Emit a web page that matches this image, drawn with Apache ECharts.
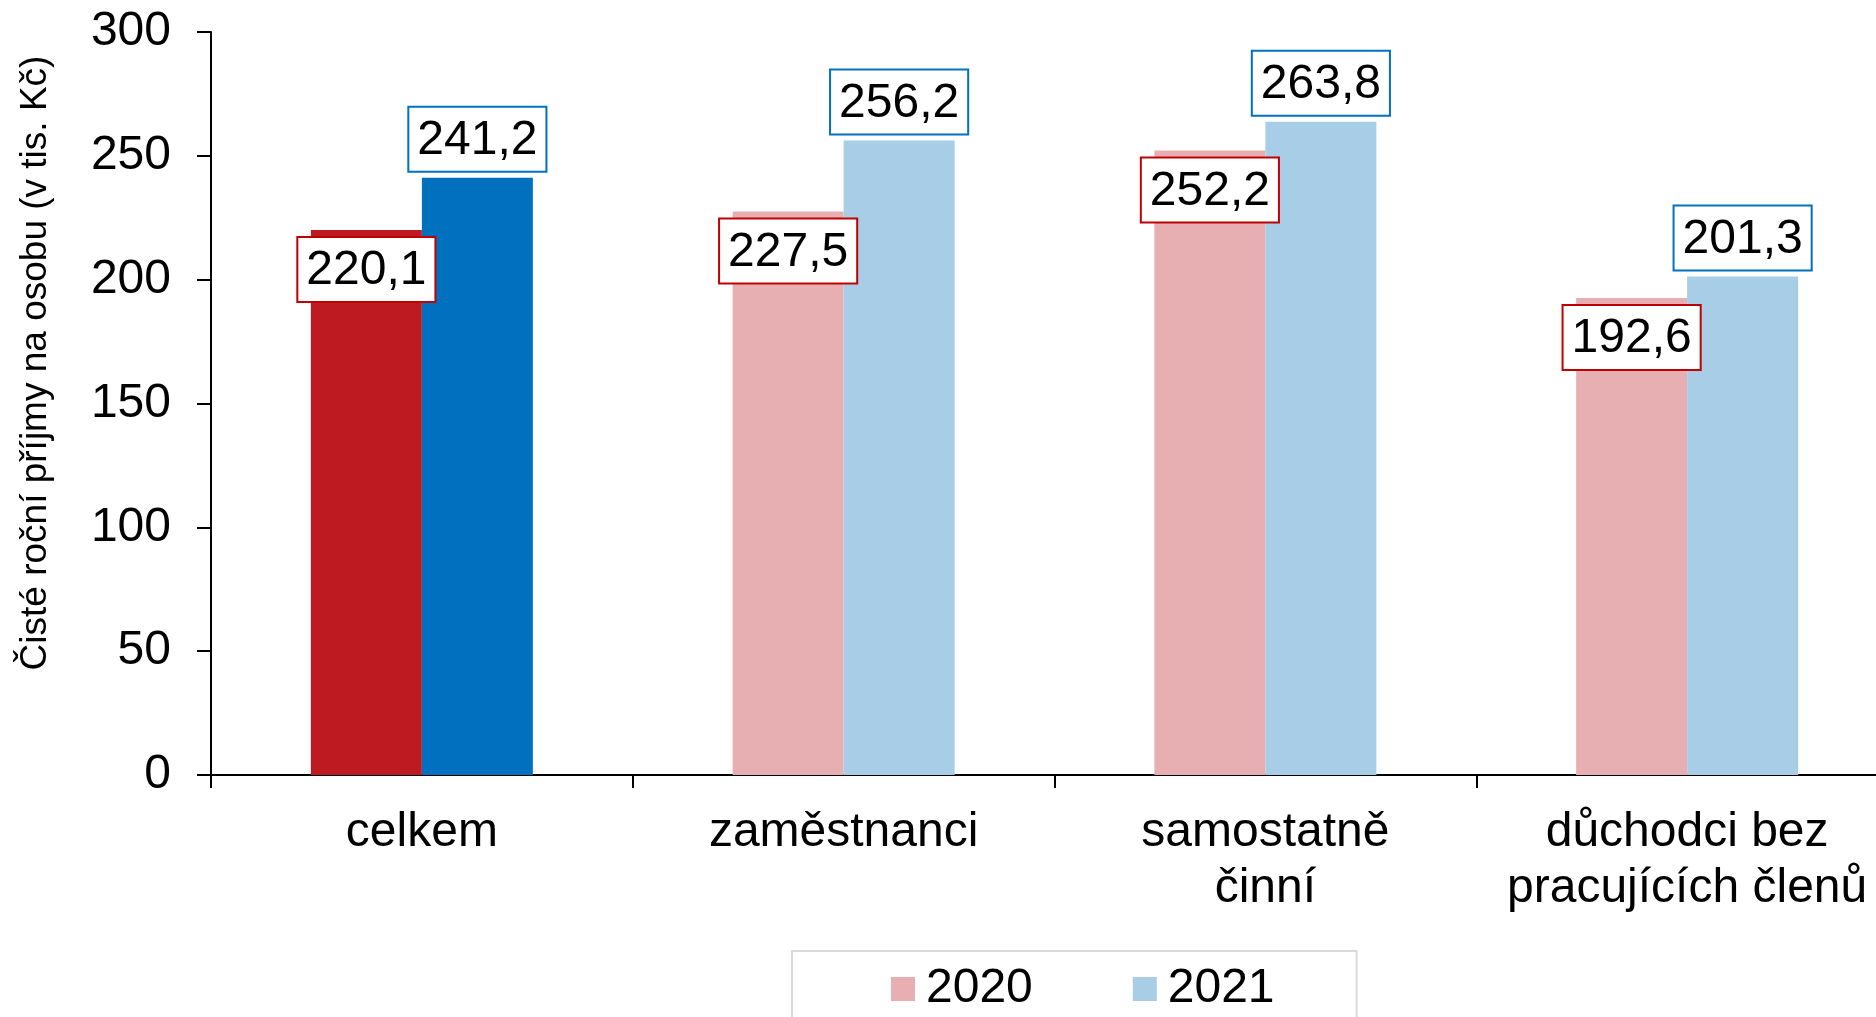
<!DOCTYPE html>
<html>
<head>
<meta charset="utf-8">
<script src="https://cdn.jsdelivr.net/npm/echarts@6/dist/echarts.min.js"></script>
<style>
  html, body { margin: 0; padding: 0; background: #fff; }
  #chart { width: 1876px; height: 1017px; }
</style>
</head>
<body>
<div id="chart"></div>
<script>
var categories = ['celkem', 'zaměstnanci', 'samostatně\nčinní', 'důchodci bez\npracujících členů'];
var years = ['2020', '2021'];
var values2020 = [220.1, 227.5, 252.2, 192.6];
var values2021 = [241.2, 256.2, 263.8, 201.3];
var yTicks = [0, 50, 100, 150, 200, 250, 300];
var yTitle = 'Čisté roční příjmy na osobu (v tis. Kč)';

var FONT = "'Liberation Sans', Arial, sans-serif";
var colors = {
  red: '#BE1A22', blue: '#0070BF',
  pink: '#E8AFB3', lightBlue: '#A7CDE7',
  redLine: '#C00000', blueLine: '#0070C0'
};

var chart = echarts.init(document.getElementById('chart'));

function fmt(p) {
  return p.value.toFixed(1).replace('.', ',');
}

function labelBox(border) {
  return {
    show: true,
    formatter: fmt,
    fontFamily: FONT,
    fontSize: 48,
    lineHeight: 54,
    color: '#000',
    backgroundColor: '#fff',
    borderColor: border,
    borderWidth: 2,
    padding: [6, 8, 3, 8]
  };
}

// first category (celkem) is drawn in the dark colours
function withHighlight(vals, dark) {
  return vals.map(function (v, i) {
    return i === 0 ? {value: v, itemStyle: {color: dark}} : v;
  });
}

var label2020 = labelBox(colors.redLine);
label2020.position = 'insideTop';
label2020.distance = 8;
var label2021 = labelBox(colors.blueLine);
label2021.position = 'top';
label2021.distance = 7;

var option = {
  animation: false,
  backgroundColor: '#fff',
  textStyle: {fontFamily: FONT},
  // plot runs a little past the right edge of the picture
  grid: {left: 211, top: 32, width: 1687, height: 743, outerBoundsMode: 'none'},
  legend: {
    data: years,
    left: 792,
    top: 951,
    itemWidth: 24,
    itemHeight: 24,
    itemGap: 100,
    icon: 'rect',
    borderColor: '#D9D9D9',
    borderWidth: 2,
    padding: [14, 82, 37, 99],
    textStyle: {fontFamily: FONT, fontSize: 48, lineHeight: 48, color: '#000', padding: [0, 0, 0, 6]}
  },
  xAxis: {
    type: 'category',
    data: categories,
    axisLine: {lineStyle: {color: '#000', width: 2}},
    axisTick: {show: true, length: 13, lineStyle: {color: '#000', width: 2}},
    axisLabel: {fontFamily: FONT, fontSize: 48, lineHeight: 56, color: '#000', margin: 30, interval: 0}
  },
  yAxis: {
    type: 'value',
    min: yTicks[0],
    max: yTicks[yTicks.length - 1],
    interval: yTicks[1] - yTicks[0],
    splitLine: {show: false},
    axisLine: {show: true, lineStyle: {color: '#000', width: 2}},
    axisTick: {show: true, length: 14, lineStyle: {color: '#000', width: 2}},
    axisLabel: {fontFamily: FONT, fontSize: 48, color: '#000', margin: 40}
  },
  graphic: [{
    type: 'text',
    x: 36,
    y: 363,
    rotation: Math.PI / 2,
    style: {
      text: yTitle,
      fontFamily: FONT,
      fontSize: 37,
      fill: '#000',
      textAlign: 'center',
      textVerticalAlign: 'middle'
    }
  }],
  series: [
    {
      name: years[0],
      type: 'bar',
      barWidth: 111,
      barGap: '0%',
      itemStyle: {color: colors.pink},
      label: label2020,
      data: withHighlight(values2020, colors.red)
    },
    {
      name: years[1],
      type: 'bar',
      barWidth: 111,
      barGap: '0%',
      itemStyle: {color: colors.lightBlue},
      label: label2021,
      data: withHighlight(values2021, colors.blue)
    }
  ]
};

chart.setOption(option);
</script>
</body>
</html>
